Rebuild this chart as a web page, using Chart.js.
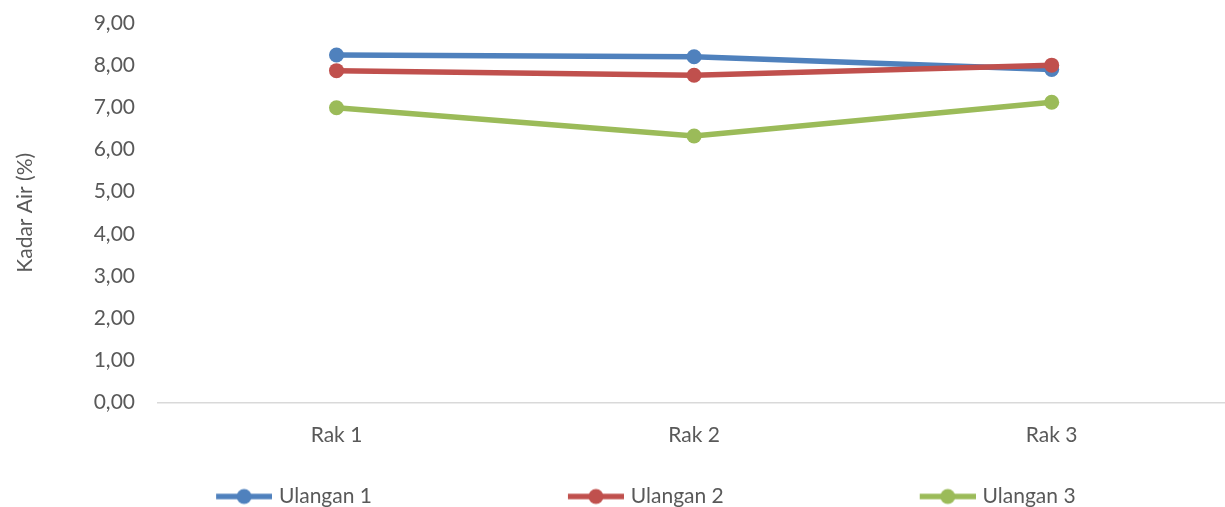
<!DOCTYPE html>
<html>
<head>
<meta charset="utf-8">
<script src="https://cdn.jsdelivr.net/npm/chart.js@4.4.1/dist/chart.umd.min.js"></script>
<style>
  html, body { margin: 0; padding: 0; background: #ffffff; width: 1225px; height: 507px; overflow: hidden; }
  #wrap { position: absolute; left: 0; top: 0; width: 1238px; height: 517px; }
</style>
</head>
<body>
<div id="wrap"><canvas id="chart" width="1238" height="517"></canvas></div>
<script>
// Kadar air per rak, tiga ulangan
const categories = ['Rak 1', 'Rak 2', 'Rak 3'];
const seriesNames = ['Ulangan 1', 'Ulangan 2', 'Ulangan 3'];
const ulangan1 = [8.24, 8.20, 7.90];
const ulangan2 = [7.87, 7.76, 8.00];
const ulangan3 = [6.99, 6.32, 7.12];
const yAxisTitle = 'Kadar Air (%)';

const seriesValues = [ulangan1, ulangan2, ulangan3];
const seriesColors = ['#4F81BD', '#C0504D', '#9BBB59'];
const textColor = '#595959';
const fontFamily = 'Lato, "Open Sans", sans-serif';
const fontSize = 21;

// Layout constants (px)
const canvasWidth = 1238;
const plotLeft = 157.7;
const plotTopPadding = 23;
const yLabelGap = 22.7;
const legendItemStep = 351.8;
const legendGap = 43.5;
const legendFirstTextX = 279;

const measureCtx = document.createElement('canvas').getContext('2d');
measureCtx.font = fontSize + 'px ' + fontFamily;
const legendTextWidth = measureCtx.measureText(seriesNames[0]).width;
const halfFont = fontSize / 2;
const legendBoxWidth = legendItemStep - legendGap - halfFont - legendTextWidth;
const legendStartX = legendFirstTextX - halfFont - legendBoxWidth;
const padLeft = 2 * legendStartX + 3 * (legendItemStep - legendGap) + 2 * legendGap - canvasWidth;

// Legend symbol: line segment with a round marker, placed next to the label
function legendSymbol(color) {
  const c = document.createElement('canvas');
  c.width = Math.round(legendBoxWidth + 7);
  c.height = 20;
  const g = c.getContext('2d');
  const end = c.width, start = end - 56, mid = 10;
  g.strokeStyle = color;
  g.lineWidth = 5.5;
  g.beginPath(); g.moveTo(start, mid); g.lineTo(end, mid); g.stroke();
  g.fillStyle = color;
  g.beginPath(); g.arc((start + end) / 2, mid, 7.5, 0, Math.PI * 2); g.fill();
  return c;
}
const legendSymbols = seriesColors.map(legendSymbol);

const datasets = seriesNames.map((name, i) => ({
  label: name,
  data: seriesValues[i],
  borderColor: seriesColors[i],
  backgroundColor: seriesColors[i],
  pointBackgroundColor: seriesColors[i],
  pointBorderWidth: 0,
  pointRadius: 7.5,
  borderWidth: 5.5,
  tension: 0,
  order: [1, 0, 2][i]
}));

new Chart(document.getElementById('chart'), {
  type: 'line',
  data: { labels: categories, datasets },
  options: {
    responsive: false,
    animation: false,
    devicePixelRatio: 1,
    layout: { padding: { top: plotTopPadding, left: padLeft, right: 0, bottom: 0 } },
    scales: {
      x: {
        offset: true,
        grid: { display: false, drawTicks: false },
        border: { display: true, color: '#D9D9D9', width: 1.5 },
        ticks: { color: textColor, padding: 20.5, font: { family: fontFamily, size: fontSize } },
        afterFit: s => { s.height = 40; }
      },
      y: {
        min: 0,
        max: 9,
        // tick marks are hidden; their length only sets the label gap
        grid: { display: false, drawTicks: true, tickLength: yLabelGap },
        border: { display: false },
        ticks: {
          stepSize: 1,
          padding: 0,
          color: textColor,
          font: { family: fontFamily, size: fontSize },
          callback: v => v.toFixed(2).replace('.', ',')
        },
        title: {
          display: true,
          text: yAxisTitle,
          color: textColor,
          font: { family: fontFamily, size: fontSize },
          padding: { top: 25.5 - padLeft - fontSize * 0.6, bottom: 0 }
        },
        afterFit: s => { s.width = plotLeft - padLeft; }
      }
    },
    plugins: {
      legend: {
        position: 'bottom',
        align: 'center',
        labels: {
          usePointStyle: true,
          pointStyleWidth: legendBoxWidth,
          padding: legendGap,
          color: textColor,
          font: { family: fontFamily, size: fontSize },
          sort: (a, b) => a.datasetIndex - b.datasetIndex,
          generateLabels: chart => {
            const items = Chart.defaults.plugins.legend.labels.generateLabels(chart);
            items.forEach(it => { it.pointStyle = legendSymbols[it.datasetIndex]; });
            return items;
          }
        }
      },
      tooltip: { enabled: false }
    }
  }
});
</script>
</body>
</html>
